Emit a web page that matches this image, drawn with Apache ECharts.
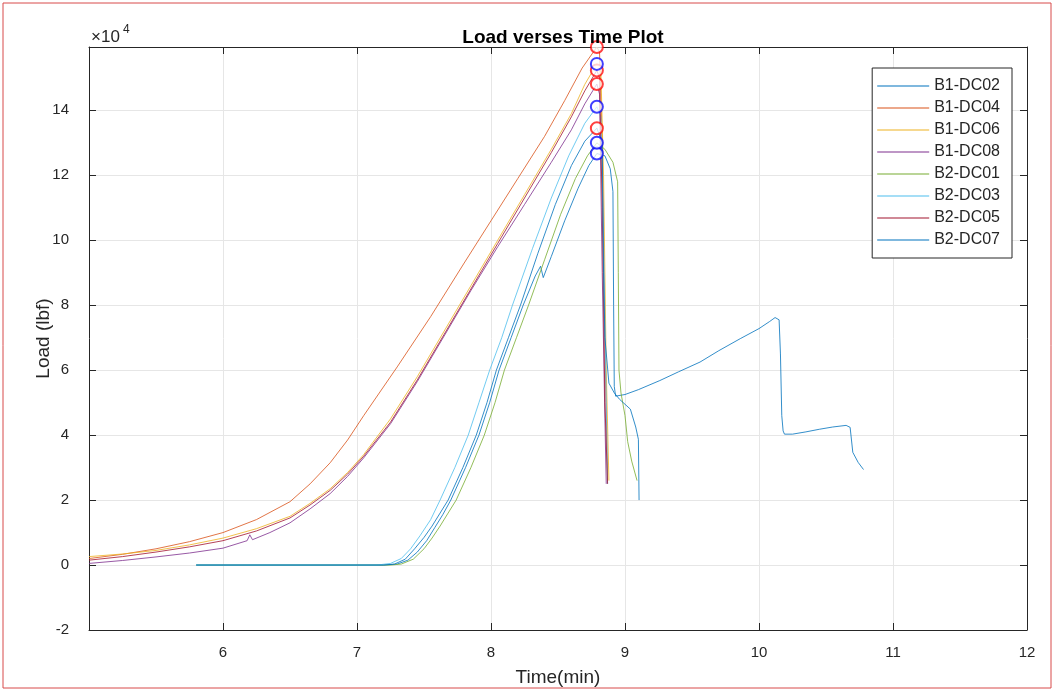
<!DOCTYPE html>
<html>
<head>
<meta charset="utf-8">
<title>Load verses Time Plot</title>
<script src="https://cdn.jsdelivr.net/npm/echarts@6/dist/echarts.min.js"></script>
<style>
	html, body { margin: 0; padding: 0; background: #fff; }
	#main { width: 1055px; height: 692px; }
</style>
</head>
<body>
<div id="main"></div>
<script>
//试样名称
var specimenNames = ['B1-DC02', 'B1-DC04', 'B1-DC06', 'B1-DC08', 'B2-DC01', 'B2-DC03', 'B2-DC05', 'B2-DC07'];
//线条颜色 (matlab 默认顺序)
var lineColors = ['#0072BD', '#D95319', '#EDB120', '#7E2F8E', '#77AC30', '#4DBEEE', '#A2142F', '#0072BD'];
//峰值圆圈颜色
var peakColors = ['#0000FF', '#FF0000', '#0000FF', '#FF0000', '#0000FF', '#0000FF', '#FF0000', '#FF0000'];

//时间(min) / 荷载(lbf)
var timeB1DC02 = [5.8, 7.2, 7.3, 7.38, 7.45, 7.52, 7.58, 7.64, 7.7, 7.81, 7.91, 7.99, 8.06, 8.15, 8.24, 8.33, 8.37, 8.39, 8.45, 8.55, 8.65, 8.73, 8.79, 8.85, 8.89, 8.91, 8.915, 8.92, 8.93, 9.0, 9.1, 9.26, 9.4, 9.56, 9.7, 9.86, 10.0, 10.08, 10.12, 10.15, 10.16, 10.17, 10.18, 10.19, 10.25, 10.35, 10.45, 10.55, 10.65, 10.68, 10.7, 10.74, 10.78];
var loadB1DC02 = [0, 0, 300, 1500, 4000, 7500, 11500, 15500, 20000, 30000, 40000, 50000, 60000, 70000, 80000, 89000, 92000, 88500, 95000, 106000, 116000, 123000, 126700, 126000, 122000, 115000, 80000, 55000, 52000, 52500, 54000, 56800, 59500, 62500, 66000, 69700, 72800, 75000, 76200, 75500, 65000, 46000, 41300, 40300, 40300, 41000, 41800, 42500, 43000, 42400, 34700, 31600, 29400];

var timeB1DC04 = [5.0, 5.25, 5.5, 5.75, 6.0, 6.25, 6.5, 6.65, 6.8, 6.93, 7.05, 7.3, 7.55, 7.8, 8.0, 8.2, 8.4, 8.55, 8.68, 8.79, 8.81, 8.83, 8.85, 8.87];
var loadB1DC04 = [2000, 3300, 5000, 7200, 10000, 14000, 19500, 25000, 31500, 38500, 46000, 61000, 76500, 93000, 106000, 119000, 132000, 143000, 153000, 159500, 158000, 130000, 70000, 26000];

var timeB1DC06 = [5.0, 5.25, 5.5, 5.75, 6.0, 6.25, 6.5, 6.65, 6.8, 6.93, 7.05, 7.25, 7.45, 7.65, 7.85, 8.05, 8.25, 8.45, 8.6, 8.7, 8.79, 8.82, 8.84, 8.86, 8.88];
var loadB1DC06 = [2600, 3400, 4500, 6200, 8300, 11200, 15000, 19000, 23500, 28500, 34000, 45000, 58000, 72000, 86000, 100000, 114000, 128000, 139000, 148000, 154300, 152000, 120000, 60000, 26000];

var timeB1DC08 = [5.0, 5.25, 5.5, 5.75, 6.0, 6.18, 6.2, 6.22, 6.35, 6.5, 6.65, 6.8, 6.93, 7.05, 7.25, 7.45, 7.65, 7.85, 8.05, 8.25, 8.45, 8.6, 8.7, 8.79, 8.81, 8.83, 8.85, 8.86];
var loadB1DC08 = [500, 1400, 2500, 3700, 5200, 7500, 9300, 7800, 10000, 13000, 17300, 22000, 27300, 33000, 43500, 56500, 70500, 84500, 98000, 111000, 124000, 134000, 142000, 148100, 145000, 90000, 45000, 25000];

var timeB2DC01 = [5.8, 7.25, 7.33, 7.42, 7.5, 7.56, 7.62, 7.68, 7.74, 7.85, 7.95, 8.03, 8.1, 8.19, 8.28, 8.4, 8.52, 8.63, 8.72, 8.79, 8.85, 8.91, 8.945, 8.95, 8.955, 8.97, 9.0, 9.02, 9.05, 9.09];
var loadB2DC01 = [0, 0, 300, 1800, 5000, 8300, 12000, 16000, 20000, 30000, 40000, 50000, 60000, 70000, 80000, 94000, 108000, 119000, 126000, 130000, 128000, 124000, 118000, 90000, 60000, 53000, 46000, 38000, 32000, 26000];

var timeB2DC03 = [5.8, 7.15, 7.25, 7.33, 7.4, 7.47, 7.55, 7.62, 7.73, 7.83, 7.91, 7.99, 8.08, 8.16, 8.31, 8.45, 8.58, 8.7, 8.79, 8.82, 8.84, 8.86, 8.87];
var loadB2DC03 = [0, 0, 500, 2000, 5000, 9000, 14000, 20000, 30000, 40000, 50000, 60000, 70000, 80000, 97500, 113000, 126000, 136000, 141100, 138000, 100000, 50000, 25000];

var timeB2DC05 = [5.0, 5.25, 5.5, 5.75, 6.0, 6.25, 6.5, 6.65, 6.8, 6.93, 7.05, 7.25, 7.45, 7.65, 7.85, 8.05, 8.25, 8.45, 8.6, 8.7, 8.79, 8.81, 8.83, 8.85, 8.87];
var loadB2DC05 = [1500, 2600, 4000, 5600, 7500, 10500, 14500, 18500, 23000, 28000, 33500, 44000, 57000, 71000, 85000, 99000, 113000, 127000, 138000, 146000, 152300, 150000, 110000, 50000, 25000];

var timeB2DC07 = [5.8, 7.2, 7.28, 7.36, 7.43, 7.5, 7.56, 7.62, 7.68, 7.79, 7.89, 7.97, 8.04, 8.13, 8.22, 8.35, 8.48, 8.6, 8.7, 8.79, 8.83, 8.84, 8.85, 8.88, 8.92, 8.96, 9.04, 9.08, 9.1, 9.105];
var loadB2DC07 = [0, 0, 300, 1800, 5000, 8500, 12000, 16000, 20000, 30000, 40000, 50000, 60000, 70000, 80000, 96000, 111000, 123000, 130500, 134500, 130000, 90000, 70000, 56000, 53000, 51000, 48000, 42500, 38700, 20000];

var allTimes = [timeB1DC02, timeB1DC04, timeB1DC06, timeB1DC08, timeB2DC01, timeB2DC03, timeB2DC05, timeB2DC07];
var allLoads = [loadB1DC02, loadB1DC04, loadB1DC06, loadB1DC08, loadB2DC01, loadB2DC03, loadB2DC05, loadB2DC07];

//坐标轴范围
var timeMin = 5, timeMax = 12, timeStep = 1;
var loadMin = -20000, loadMax = 159500, loadStep = 20000;

var axisColor = '#262626';
var gridColor = '#e6e6e6';
var fontName = 'Liberation Sans, Arial, sans-serif';

function toPairs(ts, ls) {
	var d = [];
	for(var i = 0; i < ts.length; i++) {
		d.push([ts[i], ls[i]]);
	}
	return d;
}

//每条曲线的峰值点
function peakPoint(ts, ls) {
	var k = 0;
	for(var i = 1; i < ls.length; i++) {
		if(ls[i] > ls[k]) k = i;
	}
	return [ts[k], ls[k]];
}

var series = [];
var redPeaks = [];
var bluePeaks = [];
for(var i = 0; i < specimenNames.length; i++) {
	series.push({
		name: specimenNames[i],
		type: 'line',
		data: toPairs(allTimes[i], allLoads[i]),
		showSymbol: false,
		smooth: false,
		lineStyle: { width: 1, color: lineColors[i], opacity: 0.8 },
		itemStyle: { color: lineColors[i] },
		z: 2
	});
	var p = peakPoint(allTimes[i], allLoads[i]);
	if(peakColors[i] == '#FF0000') redPeaks.push(p);
	else bluePeaks.push(p);
}
series.push({
	name: 'redPeak',
	type: 'scatter',
	data: redPeaks,
	symbol: 'emptyCircle',
	symbolSize: 12,
	clip: false,
	itemStyle: { color: '#FF0000', borderColor: '#FF0000', borderWidth: 1, opacity: 0.75 },
	z: 3
});
series.push({
	name: 'bluePeak',
	type: 'scatter',
	data: bluePeaks,
	symbol: 'emptyCircle',
	symbolSize: 12,
	clip: false,
	itemStyle: { color: '#0000FF', borderColor: '#0000FF', borderWidth: 1, opacity: 0.75 },
	z: 3
});

var chart = echarts.init(document.getElementById('main'));
var option = {
	animation: false,
	backgroundColor: '#fff',
	textStyle: { fontFamily: fontName },
	title: {
		text: 'Load verses Time Plot',
		left: 558,
		textAlign: 'center',
		top: 23,
		textStyle: { fontSize: 19, fontWeight: 'bold', color: '#000', fontFamily: fontName }
	},
	legend: {
		data: specimenNames,
		orient: 'vertical',
		right: 43,
		top: 68,
		icon: 'rect',
		itemWidth: 52,
		itemHeight: 1,
		itemGap: 6,
		padding: [10, 12, 10, 5],
		backgroundColor: '#fff',
		borderColor: axisColor,
		borderWidth: 1,
		borderRadius: 0,
		textStyle: { fontSize: 16, color: axisColor, fontFamily: fontName }
	},
	grid: { left: 89, right: 28, top: 47, bottom: 62 },
	xAxis: [{
		type: 'value',
		min: timeMin,
		max: timeMax,
		interval: timeStep,
		name: 'Time(min)',
		nameLocation: 'middle',
		nameGap: 38,
		nameMoveOverlap: false,
		nameTextStyle: { fontSize: 19, color: axisColor },
		axisLine: { show: true, onZero: false, lineStyle: { color: axisColor, width: 1 } },
		axisTick: { show: true, inside: true, length: 7, lineStyle: { color: axisColor } },
		axisLabel: { fontSize: 15, color: axisColor, margin: 15, showMinLabel: false },
		splitLine: { show: true, lineStyle: { color: gridColor, width: 1 } }
	}, {
		type: 'value',
		position: 'top',
		min: timeMin,
		max: timeMax,
		interval: timeStep,
		axisLine: { show: true, onZero: false, lineStyle: { color: axisColor, width: 1 } },
		axisTick: { show: true, inside: true, length: 7, lineStyle: { color: axisColor } },
		axisLabel: { show: false },
		splitLine: { show: false }
	}],
	yAxis: [{
		type: 'value',
		min: loadMin,
		max: loadMax,
		interval: loadStep,
		name: 'Load (lbf)',
		nameLocation: 'middle',
		nameGap: 36,
		nameMoveOverlap: false,
		nameTextStyle: { fontSize: 19, color: axisColor },
		axisLine: { show: true, onZero: false, lineStyle: { color: axisColor, width: 1 } },
		axisTick: { show: true, inside: true, length: 7, lineStyle: { color: axisColor } },
		axisLabel: {
			fontSize: 15,
			color: axisColor,
			margin: 20,
			showMaxLabel: false,
			formatter: function(v) {
				return String(v / 10000);
			}
		},
		splitLine: { show: true, lineStyle: { color: gridColor, width: 1 } }
	}, {
		type: 'value',
		position: 'right',
		min: loadMin,
		max: loadMax,
		interval: loadStep,
		axisLine: { show: true, onZero: false, lineStyle: { color: axisColor, width: 1 } },
		axisTick: { show: true, inside: true, length: 7, lineStyle: { color: axisColor } },
		axisLabel: { show: false },
		splitLine: { show: false }
	}],
	graphic: [{
		type: 'text',
		left: 91,
		top: 29,
		style: { text: '×10', fontSize: 17, fill: axisColor, fontFamily: fontName }
	}, {
		type: 'text',
		left: 123,
		top: 24,
		style: { text: '4', fontSize: 12, fill: axisColor, fontFamily: fontName }
	}, {
		type: 'rect',
		shape: { x: 3, y: 3, width: 1048, height: 685 },
		style: { fill: 'none', stroke: '#d84a4a', lineWidth: 1 },
		silent: true
	}],
	series: series
};
chart.setOption(option);
</script>
</body>
</html>
